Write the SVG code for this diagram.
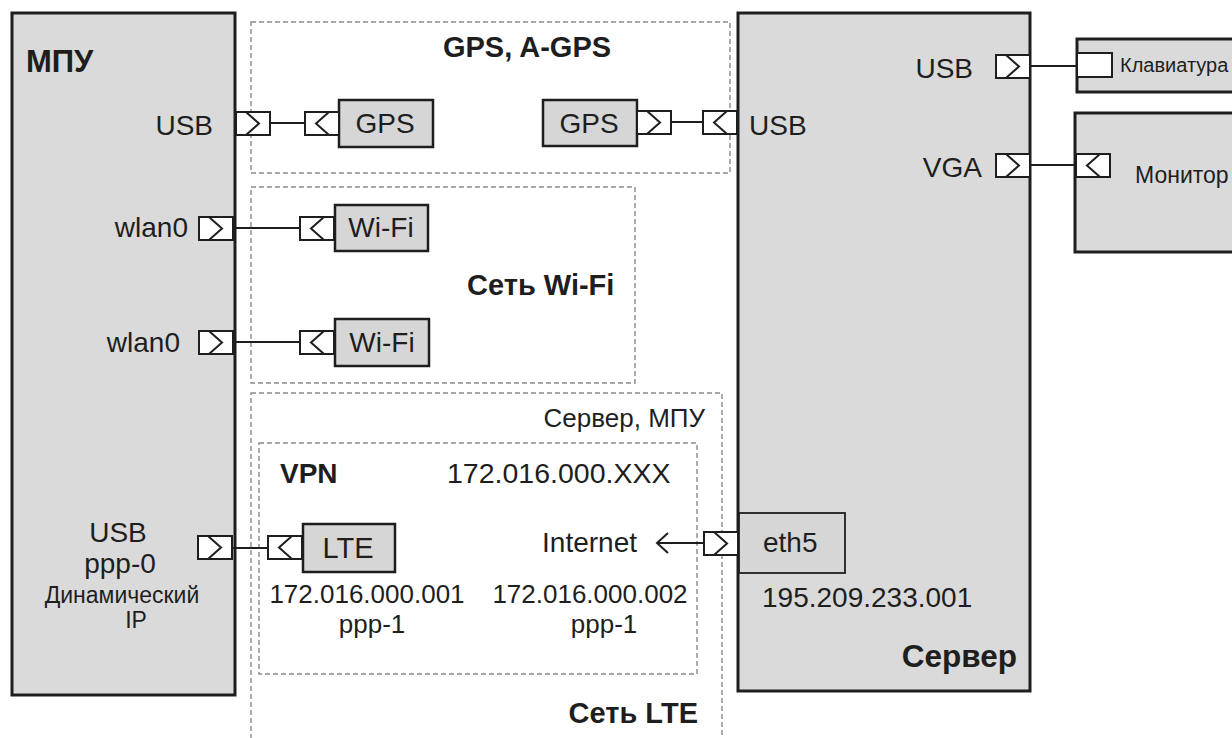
<svg xmlns="http://www.w3.org/2000/svg" xmlns:xlink="http://www.w3.org/1999/xlink" width="1232" height="738" viewBox="0 0 1232 738">
<style>
text{font-family:"Liberation Sans",Arial,sans-serif;fill:#1e1e1e}
.big{fill:#dadada;stroke:#1e1e1e;stroke-width:3}
.box{fill:#d6d6d6;stroke:#1e1e1e;stroke-width:2.5}
.thin{fill:#d6d6d6;stroke:#1e1e1e;stroke-width:1.8}
.zone{fill:none;stroke:#8a8a8a;stroke-width:1.4;stroke-dasharray:5 3}
.port{fill:#fff;stroke:#1e1e1e;stroke-width:2}
.chev{fill:none;stroke:#1e1e1e;stroke-width:2}
.wire{fill:none;stroke:#1e1e1e;stroke-width:2}
.t28{font-size:28px}
.t26{font-size:26px}
.t23{font-size:23px}
.bold{font-weight:bold;font-size:29px}
</style>
<defs>
<g id="pOut"><rect class="port" x="0" y="0" width="34" height="23"/><polyline class="chev" points="10,0 23,11.5 10,23"/></g>
<g id="pIn"><rect class="port" x="0" y="0" width="34" height="23"/><polyline class="chev" points="24,0 11,11.5 24,23"/></g>
<marker id="openArrow" viewBox="-13 -12 15 24" refX="0" refY="0" markerWidth="15" markerHeight="24" markerUnits="userSpaceOnUse" orient="auto"><polyline points="-11,-10 0,0 -11,10" fill="none" stroke="#1e1e1e" stroke-width="2"/></marker>
</defs>
<rect width="1232" height="738" fill="#fff"/>

<g id="zones">
<g id="zone-gps"><rect class="zone" x="251" y="22" width="479" height="151"/><text class="bold" x="527" y="57" text-anchor="middle">GPS, A-GPS</text></g>
<g id="zone-wifi"><rect class="zone" x="251" y="187" width="384" height="196"/><text class="bold" x="467" y="295">Сеть Wi-Fi</text></g>
<g id="zone-lte"><rect class="zone" x="251" y="393" width="471" height="350"/><text class="t26" x="705" y="427" text-anchor="end">Сервер, МПУ</text><text class="bold" x="698" y="723" text-anchor="end">Сеть LTE</text></g>
<g id="zone-vpn"><rect class="zone" x="259" y="443" width="438" height="231"/><text class="bold" x="280" y="483" style="font-size:28px">VPN</text><text class="t28" x="447" y="483" style="font-size:28.5px">172.016.000.XXX</text><text class="t28" x="637" y="552" text-anchor="end">Internet</text>
<text class="t26" x="367" y="603" text-anchor="middle">172.016.000.001</text><text class="t26" x="372" y="633" text-anchor="middle">ppp-1</text>
<text class="t26" x="590" y="603" text-anchor="middle">172.016.000.002</text><text class="t26" x="604" y="633" text-anchor="middle">ppp-1</text></g>
</g>

<g id="mpu">
<rect class="big" x="12" y="13" width="223" height="682"/>
<text class="bold" x="26" y="72" style="font-size:31px">МПУ</text>
<text class="t28" x="213" y="135" text-anchor="end">USB</text>
<text class="t28" x="188" y="237" text-anchor="end">wlan0</text>
<text class="t28" x="180" y="352" text-anchor="end">wlan0</text>
<text class="t28" x="118" y="542" text-anchor="middle">USB</text>
<text class="t28" x="120" y="573" text-anchor="middle">ppp-0</text>
<text class="t23" x="122" y="603" text-anchor="middle">Динамический</text>
<text class="t23" x="136" y="628" text-anchor="middle">IP</text>
<use href="#pOut" x="236" y="112"/>
<use href="#pOut" x="199" y="217"/>
<use href="#pOut" x="199" y="331"/>
<use href="#pOut" x="198" y="536"/>
</g>

<g id="gps1"><rect class="box" x="339" y="100" width="94" height="47"/><text class="t28" x="385" y="133" text-anchor="middle">GPS</text><use href="#pIn" x="305" y="112"/></g>
<g id="gps2"><rect class="box" x="543" y="100" width="94" height="46"/><text class="t28" x="589" y="133" text-anchor="middle">GPS</text><use href="#pOut" x="637" y="111"/></g>
<g id="wifi1"><rect class="box" x="335" y="205" width="93" height="46"/><text class="t28" x="381" y="237" text-anchor="middle">Wi-Fi</text><use href="#pIn" x="300" y="217"/></g>
<g id="wifi2"><rect class="box" x="335" y="319" width="94" height="47"/><text class="t28" x="382" y="352" text-anchor="middle">Wi-Fi</text><use href="#pIn" x="300" y="331"/></g>
<g id="lte"><rect class="box" x="303" y="524" width="92" height="48"/><text class="t28" x="348" y="558" text-anchor="middle" style="font-size:29px">LTE</text><use href="#pIn" x="268" y="536"/></g>

<g id="server">
<rect class="big" x="738" y="13" width="292" height="678"/>
<text class="t28" x="749" y="135">USB</text>
<text class="t28" x="973" y="78" text-anchor="end">USB</text>
<text class="t28" x="982" y="177" text-anchor="end">VGA</text>
<rect class="thin" x="739" y="513" width="106" height="60"/>
<text class="t28" x="763" y="552">eth5</text>
<text class="t28" x="762" y="607">195.209.233.001</text>
<text class="bold" x="1017" y="667" text-anchor="end" style="font-size:31.5px">Сервер</text>
<use href="#pIn" x="703" y="111"/>
<use href="#pOut" x="996" y="55"/>
<use href="#pOut" x="996" y="154"/>
<use href="#pOut" x="704" y="532"/>
</g>

<g id="keyboard"><rect class="big" x="1077" y="39" width="170" height="53"/><rect class="port" x="1077" y="53" width="35" height="24"/><text x="1120" y="72" style="font-size:20px">Клавиатура</text></g>
<g id="monitor"><rect class="big" x="1075" y="113" width="170" height="139"/><use href="#pIn" x="1076" y="154"/><text x="1135" y="183" style="font-size:23px">Монитор</text></g>

<g id="connectors">
<line class="wire" x1="270" y1="123" x2="305" y2="123"/>
<line class="wire" x1="671" y1="122" x2="703" y2="122"/>
<line class="wire" x1="233" y1="228" x2="300" y2="228"/>
<line class="wire" x1="233" y1="342" x2="300" y2="342"/>
<line class="wire" x1="232" y1="548" x2="268" y2="548"/>
<line class="wire" x1="704" y1="543" x2="657" y2="543" marker-end="url(#openArrow)"/>
<line class="wire" x1="1030" y1="66" x2="1077" y2="66"/>
<line class="wire" x1="1030" y1="165" x2="1076" y2="165"/>
</g>
</svg>
